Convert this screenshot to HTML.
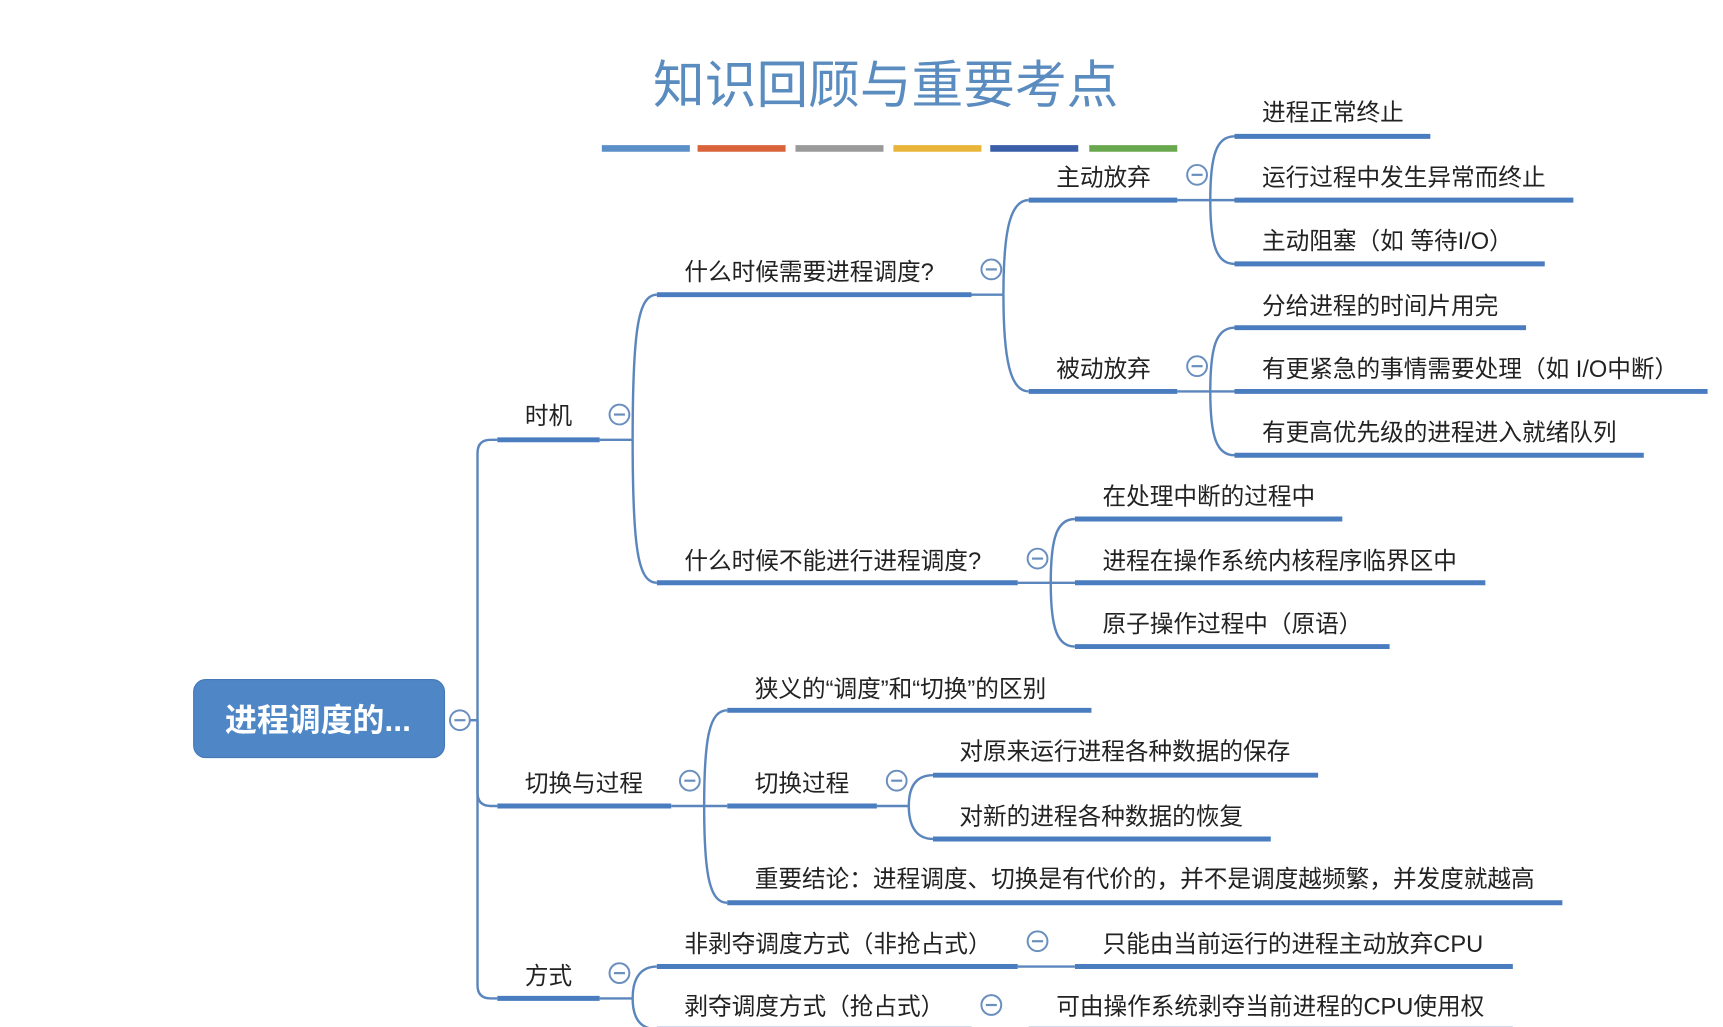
<!DOCTYPE html>
<html><head><meta charset="utf-8">
<style>
html,body{margin:0;padding:0;background:#fff;}
svg{display:block;}
text{font-family:"Liberation Sans","Noto Sans CJK SC",sans-serif;fill:#222;font-size:21.5px;dominant-baseline:middle;}
.ul{stroke:#4a7dbf;stroke-width:4.5;stroke-linecap:butt;}
.cn{stroke:#5b86bd;stroke-width:2.2;fill:none;}
.ci{fill:#fff;stroke:#6a8fbf;stroke-width:1.8;}
.mi{stroke:#6a8fbf;stroke-width:2;}
</style></head>
<body>
<svg width="1723" height="1027" viewBox="0 0 1566 934" preserveAspectRatio="none" xmlns="http://www.w3.org/2000/svg">
<rect width="1566" height="934" fill="#fff"/>
<text x="805" y="81" text-anchor="middle" style="font-size:47px;fill:#5b8cc0;font-family:'Noto Sans CJK SC',sans-serif">知识回顾与重要考点</text>
<g stroke-width="6">
<line x1="547" y1="135" x2="627" y2="135" stroke="#5b8fc8"/>
<line x1="634" y1="135" x2="714" y2="135" stroke="#d9643a"/>
<line x1="723" y1="135" x2="803" y2="135" stroke="#9a9a9a"/>
<line x1="812" y1="135" x2="892" y2="135" stroke="#e8b53a"/>
<line x1="900" y1="135" x2="980" y2="135" stroke="#3a5fa8"/>
<line x1="990" y1="135" x2="1070" y2="135" stroke="#6aa84f"/>
</g>

<rect x="176" y="618" width="228" height="71" rx="11" fill="#4f86c6" stroke="#4578b5"/>
<text x="289" y="657" text-anchor="middle" style="fill:#fff;font-size:29px;font-weight:bold">进程调度的...</text>

<g class="cn">
<path d="M427,655 L434,655"/>
<path d="M434,655 L434,412 Q434,400 446,400 L452,400"/>
<path d="M434,655 L434,721 Q434,733 446,733 L452,733"/>
<path d="M434,655 L434,896 Q434,908 446,908 L452,908"/>
<path d="M545,400 L575,400"/>
<path d="M575,400 C575,300 580,268 597,268"/>
<path d="M575,400 C575,500 580,530 597,530"/>
<path d="M883,268 L912,268"/>
<path d="M912,268 C912,210 918,182 935,182"/>
<path d="M912,268 C912,326 918,356 935,356"/>
<path d="M1070,182 L1100,182"/>
<path d="M1100,182 C1100,140 1106,124 1122,124"/>
<path d="M1100,182 L1122,182"/>
<path d="M1100,182 C1100,224 1106,240 1122,240"/>
<path d="M1070,356 L1100,356"/>
<path d="M1100,356 C1100,314 1106,298 1122,298"/>
<path d="M1100,356 L1122,356"/>
<path d="M1100,356 C1100,398 1106,414 1122,414"/>
<path d="M925,530 L955,530"/>
<path d="M955,530 C955,488 961,472 977,472"/>
<path d="M955,530 L977,530"/>
<path d="M955,530 C955,572 961,588 977,588"/>
<path d="M610,733 L640,733"/>
<path d="M640,733 C640,670 645,646 661,646"/>
<path d="M640,733 L661,733"/>
<path d="M640,733 C640,796 645,821 661,821"/>
<path d="M797,733 L826,733"/>
<path d="M826,733 C826,716 832,705 848,705"/>
<path d="M826,733 C826,750 832,763 848,763"/>
<path d="M545,908 L575,908"/>
<path d="M575,908 C575,890 582,879 597,879"/>
<path d="M575,908 C575,926 582,936 597,936"/>
<path d="M925,879 L977,879"/>
<path d="M883,936 L935,936"/>
</g>

<g class="ul">
<line x1="452" y1="400" x2="545" y2="400"/>
<line x1="452" y1="733" x2="610" y2="733"/>
<line x1="452" y1="908" x2="545" y2="908"/>
<line x1="597" y1="268" x2="883" y2="268"/>
<line x1="597" y1="530" x2="925" y2="530"/>
<line x1="935" y1="182" x2="1070" y2="182"/>
<line x1="935" y1="356" x2="1070" y2="356"/>
<line x1="1122" y1="124" x2="1300" y2="124"/>
<line x1="1122" y1="182" x2="1430" y2="182"/>
<line x1="1122" y1="240" x2="1404" y2="240"/>
<line x1="1122" y1="298" x2="1387" y2="298"/>
<line x1="1122" y1="356" x2="1552" y2="356"/>
<line x1="1122" y1="414" x2="1494" y2="414"/>
<line x1="977" y1="472" x2="1220" y2="472"/>
<line x1="977" y1="530" x2="1350" y2="530"/>
<line x1="977" y1="588" x2="1263" y2="588"/>
<line x1="661" y1="646" x2="992" y2="646"/>
<line x1="661" y1="733" x2="797" y2="733"/>
<line x1="661" y1="821" x2="1420" y2="821"/>
<line x1="848" y1="705" x2="1198" y2="705"/>
<line x1="848" y1="763" x2="1155" y2="763"/>
<line x1="597" y1="879" x2="925" y2="879"/>
<line x1="977" y1="879" x2="1375" y2="879"/>
<line x1="597" y1="936" x2="883" y2="936"/>
<line x1="935" y1="936" x2="1375" y2="936"/>
</g>

<g>
<circle class="ci" cx="418" cy="655" r="9"/><line class="mi" x1="413" y1="655" x2="423" y2="655"/>
<circle class="ci" cx="563" cy="377" r="9"/><line class="mi" x1="558" y1="377" x2="568" y2="377"/>
<circle class="ci" cx="627" cy="710" r="9"/><line class="mi" x1="622" y1="710" x2="632" y2="710"/>
<circle class="ci" cx="563" cy="885" r="9"/><line class="mi" x1="558" y1="885" x2="568" y2="885"/>
<circle class="ci" cx="901" cy="245" r="9"/><line class="mi" x1="896" y1="245" x2="906" y2="245"/>
<circle class="ci" cx="943" cy="508" r="9"/><line class="mi" x1="938" y1="508" x2="948" y2="508"/>
<circle class="ci" cx="1088" cy="159" r="9"/><line class="mi" x1="1083" y1="159" x2="1093" y2="159"/>
<circle class="ci" cx="1088" cy="333" r="9"/><line class="mi" x1="1083" y1="333" x2="1093" y2="333"/>
<circle class="ci" cx="815" cy="710" r="9"/><line class="mi" x1="810" y1="710" x2="820" y2="710"/>
<circle class="ci" cx="943" cy="856" r="9"/><line class="mi" x1="938" y1="856" x2="948" y2="856"/>
<circle class="ci" cx="901" cy="914" r="9"/><line class="mi" x1="896" y1="914" x2="906" y2="914"/>
</g>

<g transform="translate(0,2)">
<text x="477" y="378">时机</text>
<text x="477" y="712">切换与过程</text>
<text x="477" y="887">方式</text>
<text x="622" y="247">什么时候需要进程调度?</text>
<text x="622" y="510">什么时候不能进行进程调度?</text>
<text x="960" y="161">主动放弃</text>
<text x="960" y="335">被动放弃</text>
<text x="1147" y="102">进程正常终止</text>
<text x="1147" y="161">运行过程中发生异常而终止</text>
<text x="1147" y="219">主动阻塞（如 等待I/O）</text>
<text x="1147" y="278">分给进程的时间片用完</text>
<text x="1147" y="335">有更紧急的事情需要处理（如 I/O中断）</text>
<text x="1147" y="393">有更高优先级的进程进入就绪队列</text>
<text x="1002" y="451">在处理中断的过程中</text>
<text x="1002" y="510">进程在操作系统内核程序临界区中</text>
<text x="1002" y="567">原子操作过程中（原语）</text>
<text x="686" y="626">狭义的“调度”和“切换”的区别</text>
<text x="686" y="712">切换过程</text>
<text x="686" y="799">重要结论：进程调度、切换是有代价的，并不是调度越频繁，并发度就越高</text>
<text x="872" y="683">对原来运行进程各种数据的保存</text>
<text x="872" y="742">对新的进程各种数据的恢复</text>
<text x="622" y="858">非剥夺调度方式（非抢占式）</text>
<text x="1002" y="858">只能由当前运行的进程主动放弃CPU</text>
<text x="622" y="915">剥夺调度方式（抢占式）</text>
<text x="960" y="915">可由操作系统剥夺当前进程的CPU使用权</text>
</g>
</svg>
</body></html>
